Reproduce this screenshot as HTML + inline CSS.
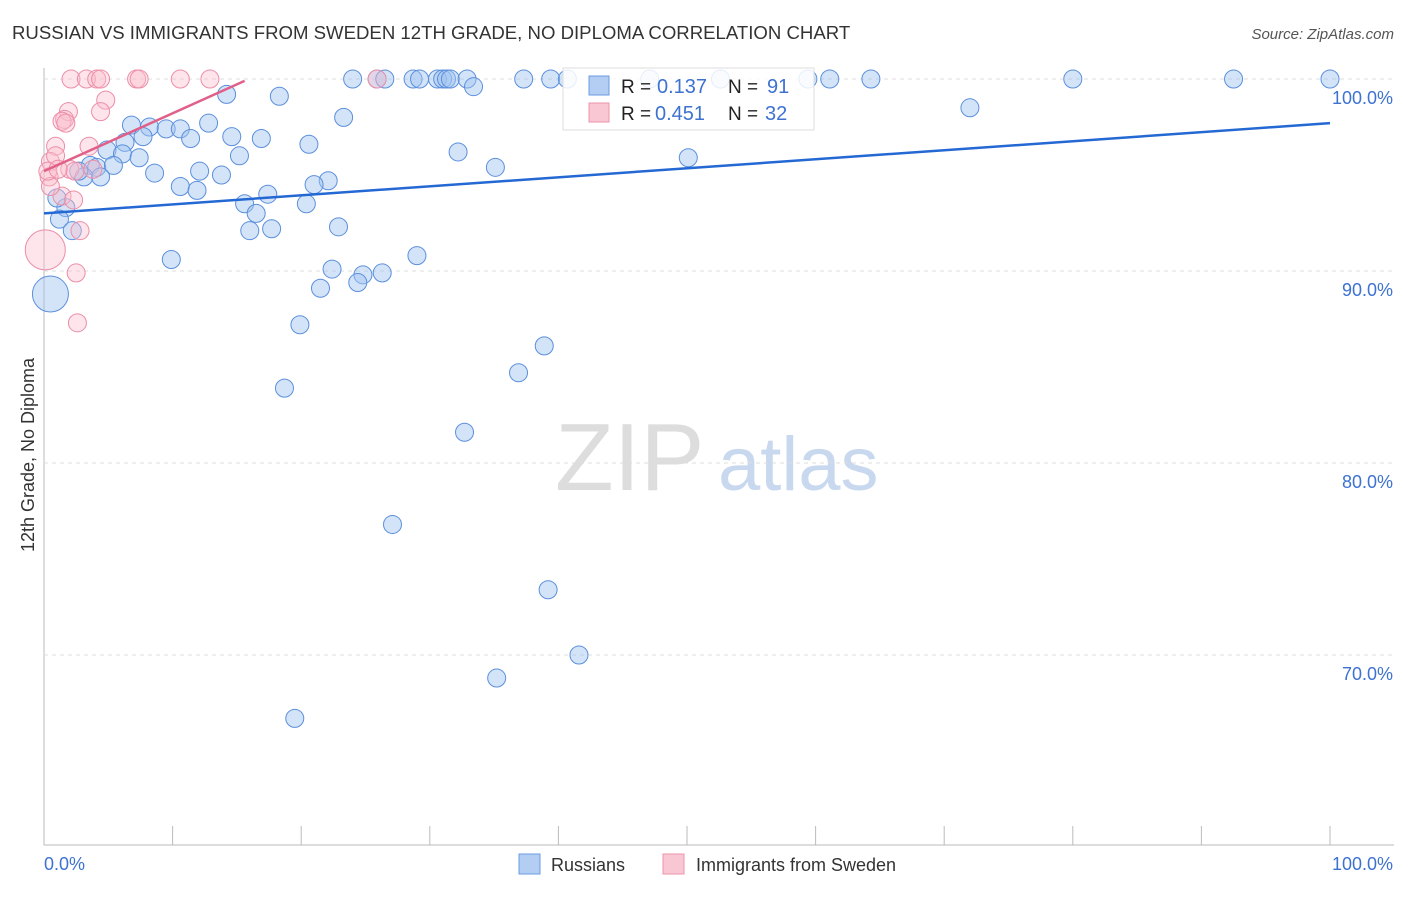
<!DOCTYPE html>
<html><head><meta charset="utf-8"><style>
body{margin:0;background:#fff;font-family:"Liberation Sans",sans-serif;}
svg text{font-family:"Liberation Sans",sans-serif;}
</style></head><body>
<svg id="c" width="1406" height="892">
<text x="12" y="39" font-size="18.6" fill="#333">RUSSIAN VS IMMIGRANTS FROM SWEDEN 12TH GRADE, NO DIPLOMA CORRELATION CHART</text>
<text x="1394" y="39" font-size="15" fill="#555" font-style="italic" text-anchor="end">Source: ZipAtlas.com</text>
<text transform="translate(34,455) rotate(-90)" font-size="18" fill="#333" text-anchor="middle">12th Grade, No Diploma</text>
<g><text x="555" y="490" font-size="96" fill="#ddd" font-family="Liberation Serif">ZIP</text><text x="718" y="490" font-size="76" fill="#c8d8ee">atlas</text></g>
<g id="grid"></g><g id="pts"></g><g id="lines"></g>
<g>
<rect x="563" y="68" width="251" height="62" fill="#fff" fill-opacity="0.85" stroke="#ddd"/>
<rect x="589" y="76" width="20" height="19" fill="#b3cdf3" stroke="#6a9be0"/>
<rect x="589" y="103" width="20" height="19" fill="#f9c6d3" stroke="#ec94ab"/>
<text x="621" y="93" font-size="19" fill="#222">R = </text><text x="657" y="93" font-size="20" fill="#3d72d1">0.137</text>
<text x="728" y="93" font-size="19" fill="#222">N = </text><text x="767" y="93" font-size="20" fill="#3d72d1">91</text>
<text x="621" y="120" font-size="19" fill="#222">R = </text><text x="655" y="120" font-size="20" fill="#3d72d1">0.451</text>
<text x="728" y="120" font-size="19" fill="#222">N = </text><text x="765" y="120" font-size="20" fill="#3d72d1">32</text>
</g>
<g>
<rect x="519" y="854" width="21" height="20" fill="#b3cdf3" stroke="#6a9be0"/><text x="551" y="871" font-size="18" fill="#333">Russians</text>
<rect x="663" y="854" width="21" height="20" fill="#f9c6d3" stroke="#ec94ab"/><text x="696" y="871" font-size="18" fill="#333">Immigrants from Sweden</text>
</g>
</svg>
<script>
const yTicks=[100,90,80,70];
const xTickLabels=["0.0%","100.0%"];
const blueX=[24.0,25.9,26.5,28.7,29.2,30.6,31.0,31.3,31.6,32.9,37.3,39.4,40.7,47.1,52.6,59.4,61.1,64.3,80.0,92.5,100,33.4,14.2,18.3,72.0,23.3,6.8,8.2,9.5,10.6,12.8,14.6,16.9,11.4,7.7,6.3,20.6,4.9,6.1,7.4,15.2,32.2,50.1,35.1,3.6,4.1,5.4,12.1,8.6,13.8,3.1,4.4,10.6,11.9,17.4,22.1,21.0,15.6,20.4,1.7,16.5,1.0,1.2,2.2,16.0,17.7,22.9,9.9,29.0,22.4,24.8,26.3,24.4,21.5,19.9,38.9,36.9,18.7,32.7,27.1,39.2,41.6,35.2,19.5,0.5,2.7];
const blueY=[100,100,100,100,100,100,100,100,100,100,100,100,100,100,100,100,100,100,100,100,100,99.6,99.2,99.1,98.5,98.0,97.6,97.5,97.4,97.4,97.7,97.0,96.9,96.9,97.0,96.7,96.6,96.3,96.1,95.9,96.0,96.2,95.9,95.4,95.5,95.4,95.5,95.2,95.1,95.0,94.9,94.9,94.4,94.2,94.0,94.7,94.5,93.5,93.5,93.3,93.0,93.8,92.7,92.1,92.1,92.2,92.3,90.6,90.8,90.1,89.8,89.9,89.4,89.1,87.2,86.1,84.7,83.9,81.6,76.8,73.4,70.0,68.8,66.7,88.8,95.2];
const blueR=[9,9,9,9,9,9,9,9,9,9,9,9,9,9,9,9,9,9,9,9,9,9,9,9,9,9,9,9,9,9,9,9,9,9,9,9,9,9,9,9,9,9,9,9,9,9,9,9,9,9,9,9,9,9,9,9,9,9,9,9,9,9,9,9,9,9,9,9,9,9,9,9,9,9,9,9,9,9,9,9,9,9,9,9,18,9];
const pinkX=[2.1,3.3,4.1,4.4,7.2,7.4,10.6,12.9,1.9,4.8,4.4,1.6,1.4,1.7,0.9,3.5,0.5,0.4,2.0,0.9,2.4,1.4,2.3,2.8,0.1,2.5,2.6,0.5,0.3,1.1,25.9,3.8];
const pinkY=[100,100,100,100,100,100,100,100,98.3,98.9,98.3,97.9,97.8,97.7,96.5,96.5,95.7,94.9,95.3,96.0,95.2,93.9,93.7,92.1,91.1,89.9,87.3,94.4,95.2,95.3,100,95.3];
const pinkR=[9,9,9,9,9,9,9,9,9,9,9,9,9,9,9,9,9,9,9,9,9,9,9,9,20,9,9,9,9,9,9,9];
const blueTrend=[[0,93.0],[100,97.7]];
const pinkTrend=[[0,95.2],[15.6,99.9]];
const NS="http://www.w3.org/2000/svg";
const X=v=>44+v*12.86, Y=v=>79+(100-v)*19.2;
function mk(t,a,p){const e=document.createElementNS(NS,t);for(const k in a)e.setAttribute(k,a[k]);p.appendChild(e);return e;}
const grid=document.getElementById('grid');
const ax=mk('line',{x1:44,y1:68,x2:44,y2:845,stroke:'#bbb'},grid);


const bx=mk('line',{x1:44,y1:845,x2:1394,y2:845,stroke:'#bbb'},grid);


yTicks.forEach(t=>{const g=mk('line',{x1:44,x2:1394,y1:Y(t),y2:Y(t),stroke:'#ddd','stroke-dasharray':'4,4'},grid);


const l=mk('text',{x:1393,y:Y(t)+25,'font-size':18,fill:'#3d72d1','text-anchor':'end'},grid);l.textContent=t.toFixed(1)+'%';

});
for(let i=1;i<=10;i++){const t=mk('line',{x1:X(i*10),x2:X(i*10),y1:826,y2:845,stroke:'#bbb'},grid);

}
[[44,'start'],[1393,'end']].forEach((p,i)=>{const l=mk('text',{x:p[0],y:870,'font-size':18,fill:'#3d72d1','text-anchor':p[1]},grid);l.textContent=xTickLabels[i];

});
const pts=document.getElementById('pts');
blueX.forEach((v,i)=>{const c=mk('circle',{cx:X(v),cy:Y(blueY[i]),r:blueR[i],fill:'rgba(160,195,240,0.45)',stroke:'#5b8fdc','stroke-width':1},pts);

});
pinkX.forEach((v,i)=>{const c=mk('circle',{cx:X(v),cy:Y(pinkY[i]),r:pinkR[i],fill:'rgba(249,190,205,0.4)',stroke:'#ec8ea8','stroke-width':1},pts);

});
const lines=document.getElementById('lines');
const bl=mk('line',{x1:X(blueTrend[0][0]),y1:Y(blueTrend[0][1]),x2:X(blueTrend[1][0]),y2:Y(blueTrend[1][1]),stroke:'#2468d4','stroke-width':2.5},lines);


const pl=mk('line',{x1:X(pinkTrend[0][0]),y1:Y(pinkTrend[0][1]),x2:X(pinkTrend[1][0]),y2:Y(pinkTrend[1][1]),stroke:'#e0608a','stroke-width':2.5},lines);


</script>
</body></html>
